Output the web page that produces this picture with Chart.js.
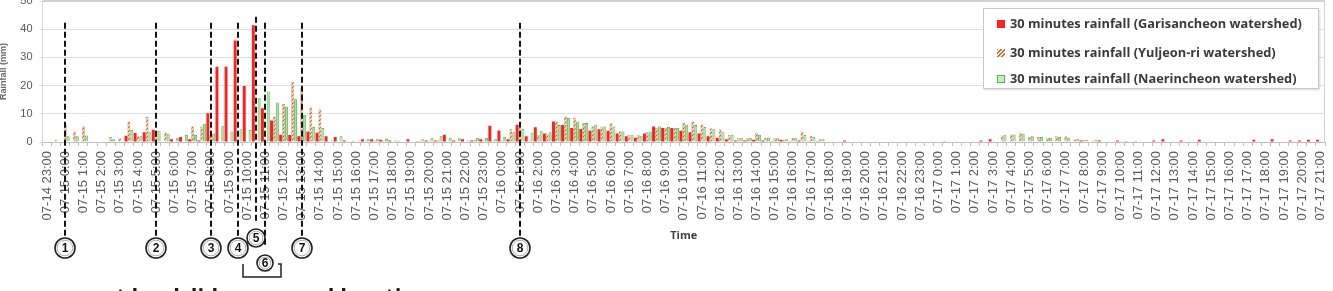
<!DOCTYPE html>
<html><head><meta charset="utf-8">
<script src="https://cdn.jsdelivr.net/npm/chart.js@4.4.1/dist/chart.umd.min.js"></script>
<style>
html,body{margin:0;padding:0;background:#fff;}
#wrap{position:relative;width:1333px;height:291px;overflow:hidden;}
canvas{display:block;}
#legend{position:absolute;left:983px;top:8px;width:336px;height:81px;border:1px solid #c8c8c8;background:#fff;box-sizing:border-box;font-family:'Open Sans';font-weight:700;font-size:12.8px;color:#3a3a3a;box-shadow:1px 1px 2px rgba(0,0,0,0.15);}
.row{position:absolute;left:13px;height:16px;line-height:16px;white-space:nowrap;}
.sw{display:inline-block;width:8px;height:8px;margin-right:5px;vertical-align:0px;box-sizing:border-box;}
</style></head>
<body>
<div id="wrap">
<canvas id="c" width="1333" height="291"></canvas>
<div id="legend"></div>
</div>
<script>
const categories = [
"07-14 23:00","07-14 23:30",
"07-15 0:00","07-15 0:30","07-15 1:00","07-15 1:30","07-15 2:00","07-15 2:30","07-15 3:00","07-15 3:30","07-15 4:00","07-15 4:30","07-15 5:00","07-15 5:30",
"07-15 6:00","07-15 6:30","07-15 7:00","07-15 7:30","07-15 8:00","07-15 8:30","07-15 9:00","07-15 9:30","07-15 10:00","07-15 10:30","07-15 11:00","07-15 11:30",
"07-15 12:00","07-15 12:30","07-15 13:00","07-15 13:30","07-15 14:00","07-15 14:30","07-15 15:00","07-15 15:30","07-15 16:00","07-15 16:30","07-15 17:00","07-15 17:30",
"07-15 18:00","07-15 18:30","07-15 19:00","07-15 19:30","07-15 20:00","07-15 20:30","07-15 21:00","07-15 21:30","07-15 22:00","07-15 22:30","07-15 23:00","07-15 23:30",
"07-16 0:00","07-16 0:30","07-16 1:00","07-16 1:30","07-16 2:00","07-16 2:30","07-16 3:00","07-16 3:30","07-16 4:00","07-16 4:30","07-16 5:00","07-16 5:30",
"07-16 6:00","07-16 6:30","07-16 7:00","07-16 7:30","07-16 8:00","07-16 8:30","07-16 9:00","07-16 9:30","07-16 10:00","07-16 10:30","07-16 11:00","07-16 11:30",
"07-16 12:00","07-16 12:30","07-16 13:00","07-16 13:30","07-16 14:00","07-16 14:30","07-16 15:00","07-16 15:30","07-16 16:00","07-16 16:30","07-16 17:00","07-16 17:30",
"07-16 18:00","07-16 18:30","07-16 19:00","07-16 19:30","07-16 20:00","07-16 20:30","07-16 21:00","07-16 21:30","07-16 22:00","07-16 22:30","07-16 23:00","07-16 23:30",
"07-17 0:00","07-17 0:30","07-17 1:00","07-17 1:30","07-17 2:00","07-17 2:30","07-17 3:00","07-17 3:30","07-17 4:00","07-17 4:30","07-17 5:00","07-17 5:30",
"07-17 6:00","07-17 6:30","07-17 7:00","07-17 7:30","07-17 8:00","07-17 8:30","07-17 9:00","07-17 9:30","07-17 10:00","07-17 10:30","07-17 11:00","07-17 11:30",
"07-17 12:00","07-17 12:30","07-17 13:00","07-17 13:30","07-17 14:00","07-17 14:30","07-17 15:00","07-17 15:30","07-17 16:00","07-17 16:30","07-17 17:00","07-17 17:30",
"07-17 18:00","07-17 18:30","07-17 19:00","07-17 19:30","07-17 20:00","07-17 20:30","07-17 21:00"
];

const seriesNames = [
"30 minutes rainfall (Garisancheon watershed)",
"30 minutes rainfall (Yuljeon-ri watershed)",
"30 minutes rainfall (Naerincheon watershed)"
];

const garisancheon = [
0,0,0,0,0,0,0,0,0,2.2,
3.2,3.5,4.3,0,1,1.8,1,0.5,10.2,26.7,
26.7,36,19.9,41.4,12,7.6,2.6,2.5,2,3.7,
3.3,2,1.8,0.5,0.3,1,1,0.8,0.5,0.3,
1,0.3,0.5,0.5,2.6,0.5,1,0.5,1,5.8,
4.1,1,6.1,2,5.2,3,7.3,6,5,4.6,
4,4.5,4,3,2,1.5,3,5.5,5,5,
4,3.5,3,2,1.5,1,0.5,0.5,0.8,0.5,
0.3,0.8,0.3,0.5,0.3,0.3,0,0,0.5,0,
0,0,0,0,0,0,0,0,0,0.3,
0,0,0,0.5,1,0,0,0,0,0,
0,0,0,0,0.5,0,0.5,0,0.5,0.3,
0.3,0,0.5,1,0,0.5,0,0.8,0,0,
0,0,0,0.8,0,1,0,0.5,0.5,0.8,
0.8
];

const yuljeon = [
0,0.8,6.5,3.7,5.5,0.3,0,1.8,1.5,7.3,
2,9,4,3.5,0,0,5.5,5.5,2.5,0,
0,0,0,0,0,9,13.5,21.4,19.4,12.2,
11.8,0,0,0,0,0.5,0.5,0.5,0,0,
0,0.5,0.5,0.8,0,0.5,0,0.8,0.5,0.5,
0.5,4.6,5,0.5,2.5,3,7.3,9,8.7,6.7,
5.5,5.5,6.7,3.8,2.5,2.5,3.5,5,5,5,
6.9,7.3,6.2,4.9,4.5,2.6,1.5,1.5,3.3,1.5,
1.3,0.8,1.5,3.7,2.2,1,0.3,0,0,0,
0,0,0,0,0,0,0,0,0,0,
0,0,0,0,0,2.3,2.7,3.2,1.8,1.8,
1.5,2.2,2,1,0.8,0.5,0,0,0,0,
0,0,0,0,0,0,0,0,0,0,
0,0,0,0,0,0,0,0,0,0,
0
];

const naerincheon = [
0,0,2,2,2.3,0,0,1,0,4.3,
2,3.5,4,2.9,1.5,2.5,2.5,6.5,3,5.8,
3.7,4.5,4.3,15.5,17.9,14,12.5,15.2,9.6,5.3,
5,0.5,2,0.3,0.5,1,1,1.2,0.5,0.2,
0.3,1,1.5,2,1.5,1.3,0.5,1.5,1.5,1,
1.8,3.5,4.6,3.3,4,3.5,6,8.5,7.3,6.7,
6.1,5.5,5.5,3.7,2.6,2,3.7,5.5,5.3,5,
6.1,6,5.3,4.5,3.5,2.6,1.5,1.5,2.5,1.5,
1.3,1,1.5,2.5,1.8,1,0.3,0,0,0,
0,0,0,0,0,0,0,0,0,0,
0,0,0,0,0,2.6,2.7,2.9,2,1.8,
1.5,1.8,1.5,1,0.8,0.8,0,0,0,0,
0,0,0,0,0,0,0,0,0,0,
0,0,0,0,0,0,0,0,0,0,
0
];

const yTicks = [0,10,20,30,40,50];

// landslide occurrence markers (circled numbers) and the time slot each points to
const markerLabels = ["1","2","3","4","5","6","7","8"];
const markerTimes = ["07-15 0:00","07-15 5:00","07-15 8:00","07-15 9:30","07-15 10:30","07-15 11:00","07-15 13:00","07-16 1:00"];

const captionText = "at landslide occurred location";

function hatchPattern(){
  const c=document.createElement('canvas'); c.width=4; c.height=4;
  const g=c.getContext('2d');
  g.fillStyle='#fbe8d6'; g.fillRect(0,0,4,4);
  g.strokeStyle='#b8743c'; g.lineWidth=1.3;
  g.beginPath(); g.moveTo(0,4); g.lineTo(4,0); g.moveTo(-1,1); g.lineTo(1,-1); g.moveTo(3,5); g.lineTo(5,3); g.stroke();
  return g.createPattern(c,'repeat');
}

// HTML legend
const swatchCss = [
  "background:#ff1f1f;",
  "background:repeating-linear-gradient(135deg,#b8743c 0 1.4px,#fbe8d6 1.4px 2.8px);",
  "background:#c6efbe;border:1px solid #4db84d;"
];
const rowTops = [6, 35, 61];
const lg = document.getElementById('legend');
seriesNames.forEach((n,i)=>{
  const r=document.createElement('div'); r.className='row'; r.style.top=rowTops[i]+'px';
  r.innerHTML='<span class="sw" style="'+swatchCss[i]+'"></span>'+n;
  lg.appendChild(r);
});

const markerStyle = {
  "5": {cy:238, r:9, top:16.7, lineEnd:223},
  "6": {cy:263, r:8, lineEnd:247, bracket:true}
};

const annot = {
  id:'annot',
  afterDraw(chart){
    const {ctx, chartArea:a, scales:{x}} = chart;
    ctx.save();
    // plot frame (top & right)
    ctx.strokeStyle='#d2d2d2'; ctx.lineWidth=2;
    ctx.beginPath(); ctx.moveTo(a.left, a.top); ctx.lineTo(a.right, a.top); ctx.stroke();
    ctx.lineWidth=1;
    ctx.beginPath(); ctx.moveTo(a.right-0.5, a.top); ctx.lineTo(a.right-0.5, a.bottom); ctx.stroke();

    markerLabels.forEach((lab,i)=>{
      const px = Math.round(x.getPixelForValue(categories.indexOf(markerTimes[i])));
      const st = Object.assign({cy:248, r:10, top:22.7}, markerStyle[lab]||{});
      const end = st.lineEnd !== undefined ? st.lineEnd : st.cy - st.r - 1.5;
      ctx.setLineDash([6,3]); ctx.lineWidth=2; ctx.strokeStyle='#141414';
      ctx.beginPath(); ctx.moveTo(px, st.top); ctx.lineTo(px, end); ctx.stroke();
      ctx.setLineDash([]);
      // circle
      ctx.beginPath(); ctx.arc(px, st.cy, st.r, 0, Math.PI*2);
      ctx.fillStyle='#fff'; ctx.fill();
      ctx.lineWidth=1.6; ctx.strokeStyle='#222'; ctx.stroke();
      ctx.beginPath(); ctx.arc(px, st.cy, st.r-2.2, 0, Math.PI*2);
      ctx.lineWidth=0.8; ctx.strokeStyle='#9a9a9a'; ctx.stroke();
      ctx.fillStyle='#111'; ctx.font='bold 12px "Liberation Sans"';
      ctx.textAlign='center'; ctx.textBaseline='middle';
      ctx.fillText(lab, px, st.cy+0.5);
      if(st.bracket){
        ctx.lineWidth=1.5; ctx.strokeStyle='#222';
        ctx.beginPath();
        ctx.moveTo(px-22, st.cy+1); ctx.lineTo(px-22, st.cy+14); ctx.lineTo(px+16, st.cy+14); ctx.lineTo(px+16, st.cy+1); ctx.lineTo(px+13, st.cy+1);
        ctx.stroke();
      }
    });
    // partially visible caption below the figure (mostly cut off by the image edge)
    ctx.fillStyle='#1a1a1a'; ctx.font='bold 22px "Open Sans"'; ctx.textAlign='left'; ctx.textBaseline='alphabetic';
    ctx.fillText(captionText, 103, 304);
    ctx.restore();
  }
};

Chart.defaults.font.family = '"Liberation Sans", sans-serif';

new Chart(document.getElementById('c'), {
  type:'bar',
  data:{
    labels:categories,
    datasets:[
      {label:seriesNames[0], data:garisancheon, backgroundColor:'#ff1f1f', borderWidth:0, categoryPercentage:0.96, barPercentage:1},
      {label:seriesNames[1], data:yuljeon, backgroundColor:hatchPattern(), borderColor:'#c98a52', borderWidth:0.5, categoryPercentage:0.96, barPercentage:1},
      {label:seriesNames[2], data:naerincheon, backgroundColor:'#a6e29a', borderColor:'#3fae3f', borderWidth:0.8, categoryPercentage:0.96, barPercentage:1}
    ]
  },
  options:{
    responsive:false, animation:false, devicePixelRatio:1,
    layout:{padding:{top:1,right:8,left:0,bottom:0}},
    plugins:{legend:{display:false}, tooltip:{enabled:false}},
    scales:{
      x:{
        offset:true,
        grid:{display:true, drawOnChartArea:false, drawTicks:true, tickLength:4, color:'#bfbfbf', offset:true},
        border:{color:'#bfbfbf'},
        ticks:{autoSkip:false, maxRotation:90, minRotation:90, padding:5, color:'#595959',
          font:{size:13},
          callback(v,i){ const l=categories[i]; return l.endsWith(':00') ? l : ''; }},
        title:{display:true, text:'Time', color:'#404040', font:{family:'"Open Sans"', size:11, weight:'bold'}, padding:{top:0,bottom:48.4}},
        afterFit(s){ s.height=149; s.paddingLeft=0; s.paddingRight=0; }
      },
      y:{
        min:0, max:50,
        afterBuildTicks(s){ s.ticks = yTicks.map(v=>({value:v})); },
        grid:{color:'#dedede', tickLength:3, drawTicks:true},
        border:{color:'#d6d6d6'},
        ticks:{padding:7, color:'#595959', font:{size:11}},
        title:{display:true, text:'Rainfall (mm)', color:'#6a6a6a', font:{size:9, weight:'bold'}, padding:{top:-2,bottom:8}},
        afterFit(s){ s.width=42.5; s.paddingTop=0; s.paddingBottom=0; }
      }
    }
  },
  plugins:[annot]
});
</script>
</body></html>
